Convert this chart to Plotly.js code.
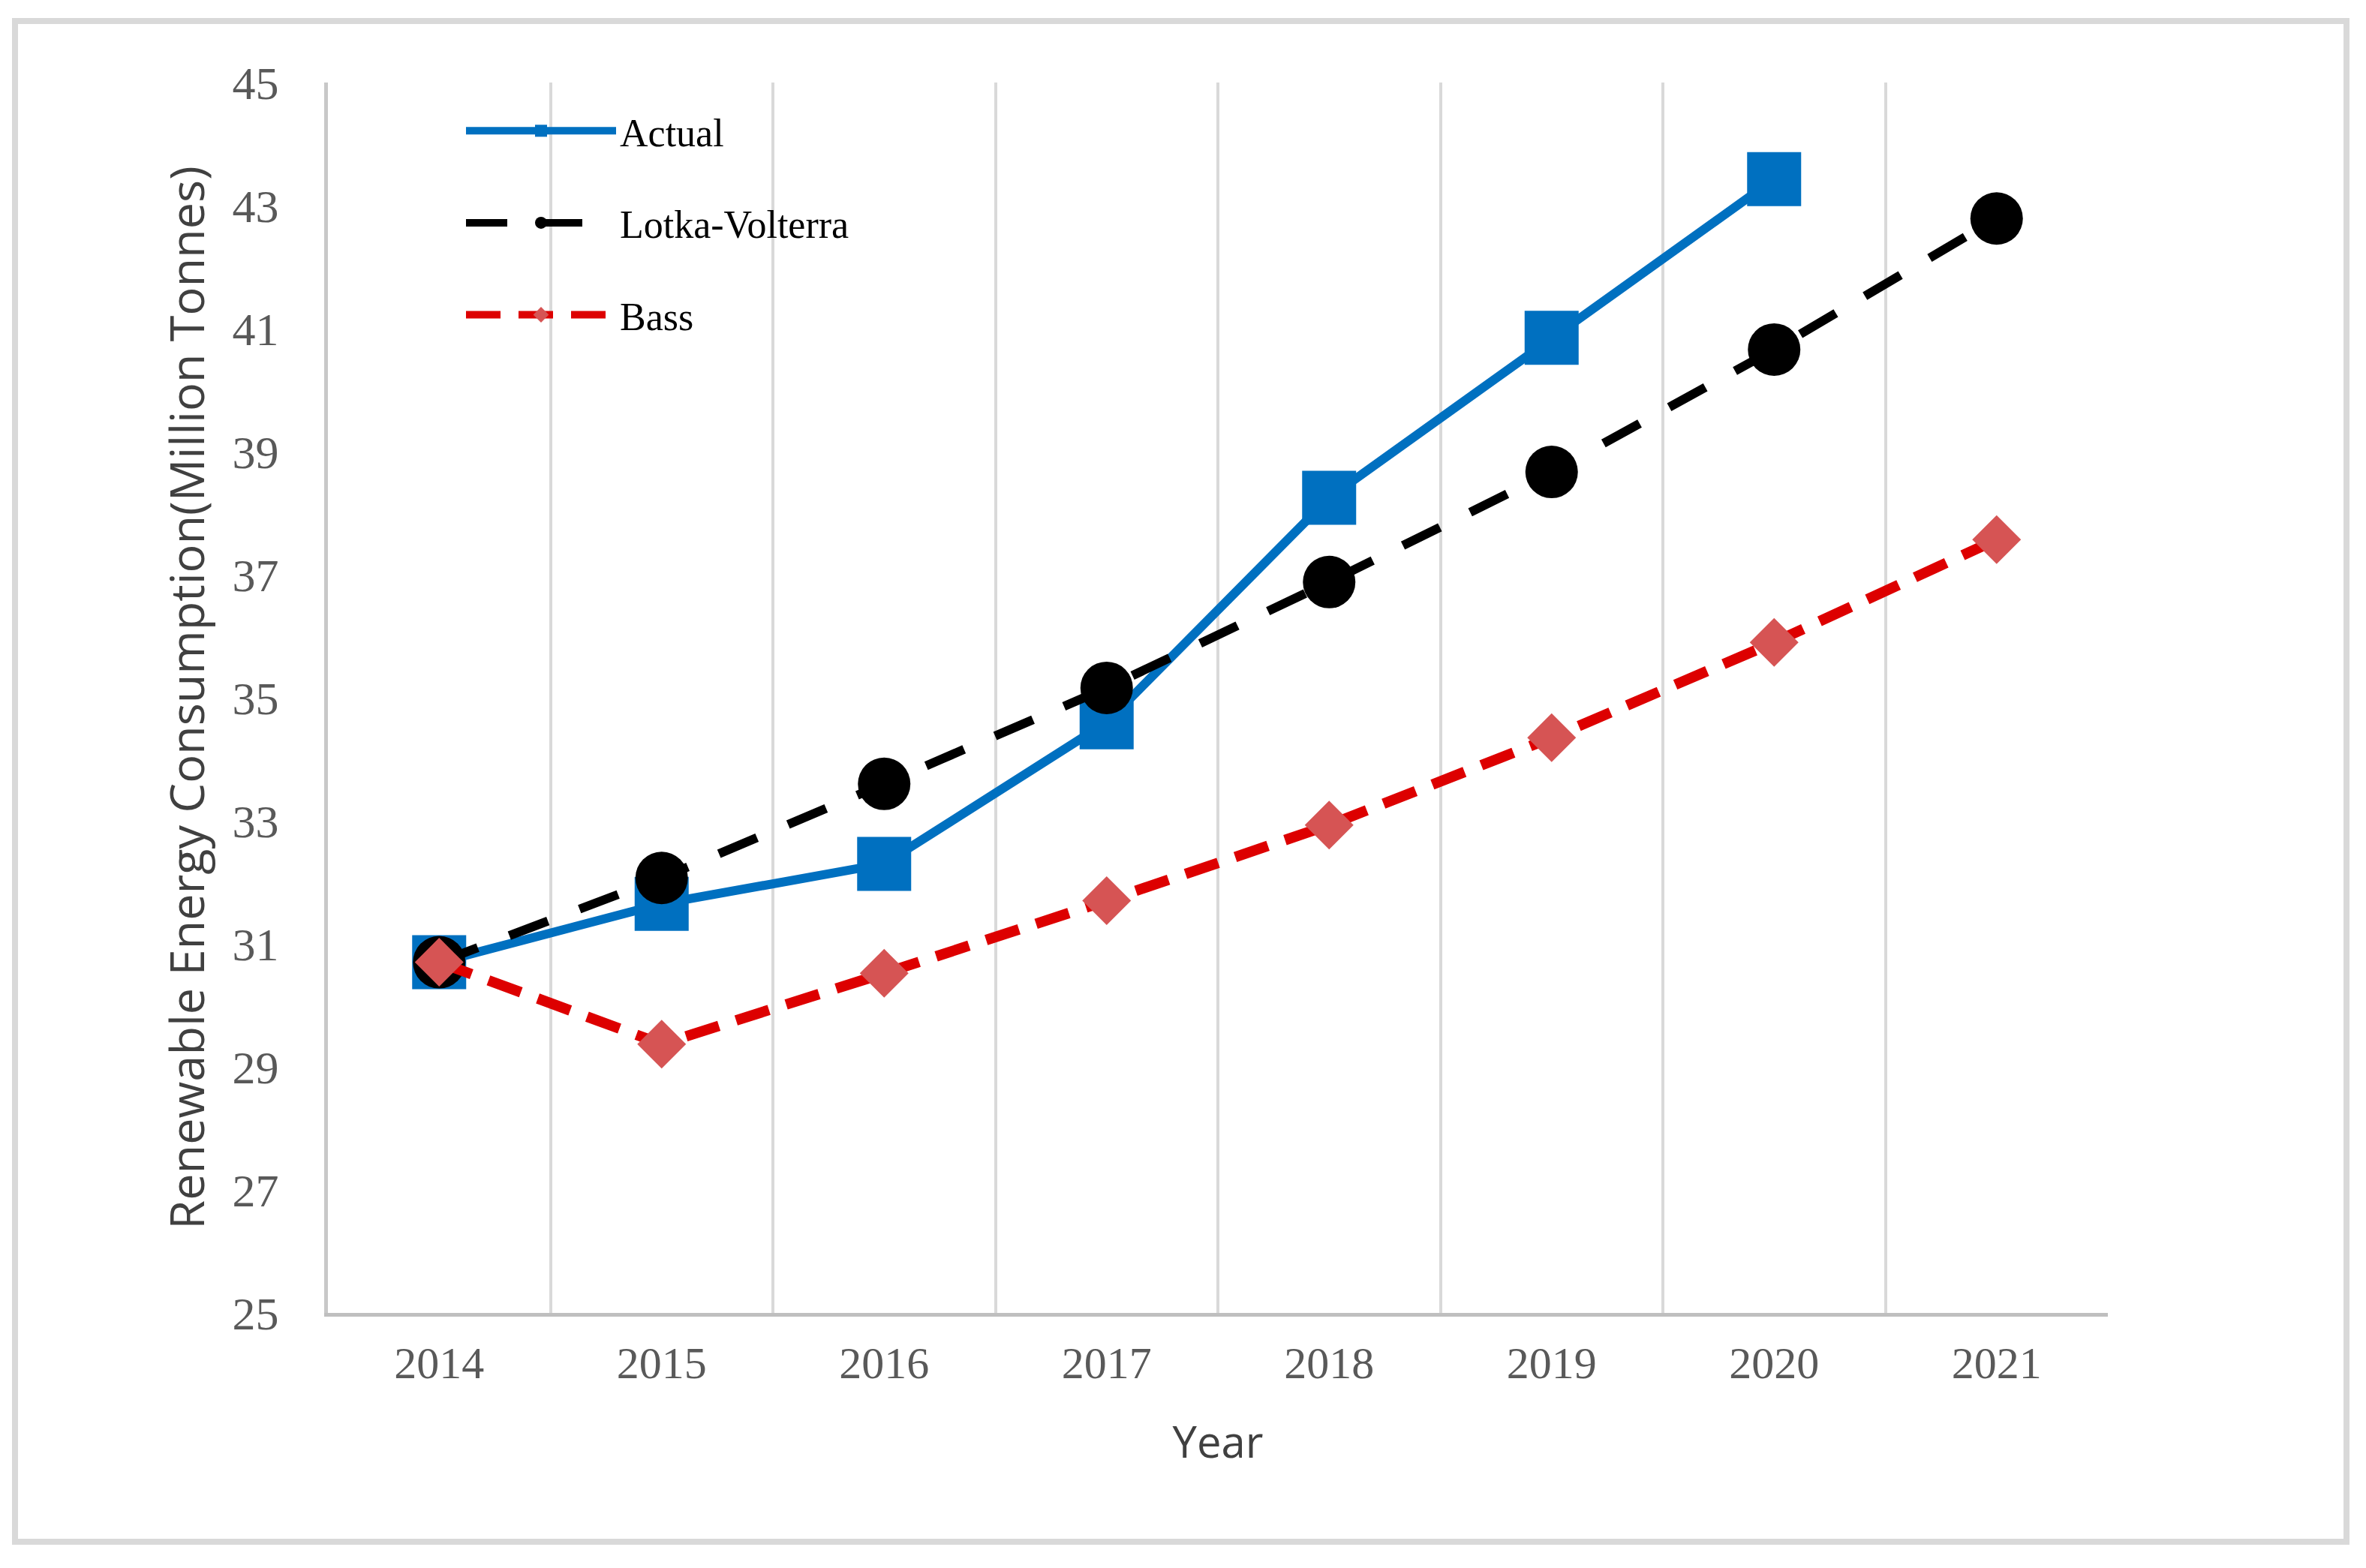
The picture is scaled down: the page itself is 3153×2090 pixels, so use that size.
<!DOCTYPE html>
<html>
<head>
<meta charset="utf-8">
<script src="https://cdn.plot.ly/plotly-3.0.1.min.js"></script>
<style>html,body{margin:0;padding:0;background:#fff;}#chart{width:3153px;height:2090px;}</style>
</head>
<body>
<div id="chart"></div>
<script>
const years = ['2014','2015','2016','2017','2018','2019','2020','2021'];
const actual = [30.7, 31.65, 32.3, 34.6, 38.25, 40.85, 43.43];
const lotkaVolterra = [30.7, 32.07, 33.6, 35.16, 36.88, 38.67, 40.66, 42.79];
const bass = [30.7, 29.37, 30.52, 31.7, 32.93, 34.35, 35.9, 37.57];
const seriesNames = ['Actual', 'Lotka-Volterra', 'Bass'];
const yTicks = [25, 27, 29, 31, 33, 35, 37, 39, 41, 43, 45];

const traces = [
  {
    x: years.slice(0, actual.length), y: actual, name: seriesNames[0],
    type: 'scatter', mode: 'lines+markers', legendgroup: 'a',
    line: {color: '#0070C0', width: 12},
    marker: {symbol: 'square', size: 72, color: '#0070C0', line: {width: 0}}
  },
  {
    x: years, y: lotkaVolterra, name: seriesNames[1],
    type: 'scatter', mode: 'lines+markers', legendgroup: 'b',
    line: {color: '#000000', width: 12, dash: '55px,45px'},
    marker: {symbol: 'circle', size: 70, color: '#000000', line: {width: 0}}
  },
  {
    x: years, y: bass, name: seriesNames[2],
    type: 'scatter', mode: 'lines+markers', legendgroup: 'c',
    line: {color: '#DD0000', width: 14, dash: '46px,24px'},
    marker: {symbol: 'diamond', size: 50, color: '#D65454', line: {width: 0}}
  }
];

const W = 3153, H = 2090;
const L = 437, R = 2809, T = 110, B = 1750;
const px = v => (v - L) / (R - L);
const py = v => (B - v) / (B - T);

const layout = {
  width: W, height: H,
  paper_bgcolor: '#ffffff', plot_bgcolor: '#ffffff',
  margin: {l: L, r: W - R, t: T, b: H - B, pad: 0},
  showlegend: true,
  legend: {
    x: px(616), y: py(134), xanchor: 'left', yanchor: 'top',
    bgcolor: 'rgba(0,0,0,0)', borderwidth: 0,
    font: {family: 'Liberation Serif', size: 52, color: '#000000'},
    itemwidth: 200, traceorder: 'grouped', tracegroupgap: 52
  },
  xaxis: {
    type: 'category', categoryorder: 'array', categoryarray: years,
    range: [-0.5, 7.5], tickson: 'boundaries',
    showgrid: true, gridcolor: '#D9D9D9', gridwidth: 4,
    showline: true, linecolor: '#BFBFBF', linewidth: 5,
    ticks: 'outside', ticklen: 22, tickcolor: 'rgba(0,0,0,0)',
    ticklabelstandoff: 10,
    tickfont: {family: 'Liberation Serif', size: 60, color: '#595959'},
    title: {text: 'Year', font: {family: 'Open Sans', size: 58, color: '#404040'}, standoff: 55},
    zeroline: false, fixedrange: true
  },
  yaxis: {
    range: [25, 45], tickvals: yTicks, ticktext: yTicks.map(String),
    showgrid: false, zeroline: false,
    showline: true, linecolor: '#C8C8C8', linewidth: 5,
    ticks: 'outside', ticklen: 48, tickcolor: 'rgba(0,0,0,0)',
    tickfont: {family: 'Liberation Serif', size: 62, color: '#595959'},
    title: {text: 'Renewable Energy Consumption(Million Tonnes)', font: {family: 'Open Sans', size: 63, color: '#404040'}, standoff: 18},
    fixedrange: true
  },
  shapes: [
    {type: 'rect', xref: 'paper', yref: 'paper', x0: px(20), x1: px(3127), y0: py(2055), y1: py(28),
     line: {color: '#D9D9D9', width: 8}, fillcolor: 'rgba(0,0,0,0)', layer: 'below'}
  ]
};

Plotly.newPlot('chart', traces, layout, {staticPlot: true, displayModeBar: false});
</script>
</body>
</html>
